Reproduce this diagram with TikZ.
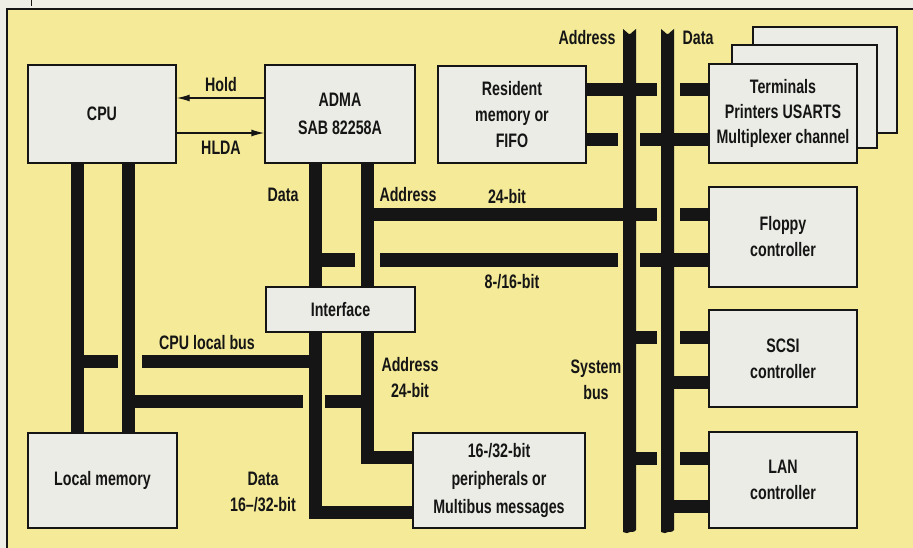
\documentclass[tikz,border=0pt]{standalone}
\usepackage{fontspec}
\newfontfamily\cf{Liberation Sans}[UprightFont={* Bold}, FakeStretch=0.73]
\usetikzlibrary{arrows.meta}
\definecolor{panel}{HTML}{F4EA98}
\definecolor{boxfill}{HTML}{ECECE6}
\definecolor{outer}{HTML}{EEEDE6}
\definecolor{ink}{HTML}{151515}
\pgfdeclarelayer{bg}\pgfdeclarelayer{mid}\pgfsetlayers{bg,mid,main}
\begin{document}
\begin{tikzpicture}[x=1pt,y=-1pt,
  txt/.style={font=\cf\fontsize{19.5}{26}\selectfont, text=ink, align=center, inner sep=0pt},
  box/.style={txt, draw=ink, line width=1.4pt, fill=boxfill},
  bus/.style={draw=ink, line width=13pt},
  sig/.style={draw=ink, line width=1.4pt, -{Latex[length=13pt,width=7pt]}}]
\useasboundingbox (0,0) rectangle (913,548);
\begin{pgfonlayer}{bg}
  \fill[outer] (0,0) rectangle (913,548);
  \fill[panel] (7,9) rectangle (913,548);
  \draw[ink, line width=1.6pt] (7,548) -- (7,9) -- (913,9);
  \draw[ink, line width=1pt] (31,0) -- (31,6);
\end{pgfonlayer}
% boxes
\node[box, minimum width=148pt, minimum height=98pt] (cpu) at (102,114) {CPU};
\node[box, minimum width=150pt, minimum height=98pt] (adma) at (340,114) {ADMA\\[2pt]SAB 82258A};
\node[box, minimum width=148pt, minimum height=97pt] (res) at (512,114.5) {Resident\\memory or\\FIFO};
\node[box, minimum width=144pt, minimum height=106pt] (term3) at (825,80) {};
\node[box, minimum width=145pt, minimum height=103pt] (term2) at (804.5,96.5) {};
\node[box, minimum width=148pt, minimum height=99pt, font=\cf\fontsize{19.5}{25}\selectfont] (term) at (783,113.5) {Terminals\\Printers USARTS\\Multiplexer channel};
\node[box, minimum width=148pt, minimum height=100pt] (floppy) at (783,237) {Floppy\\controller};
\node[box, minimum width=148pt, minimum height=97pt] (scsi) at (783,358.5) {SCSI\\controller};
\node[box, minimum width=148pt, minimum height=96pt] (lan) at (783,480) {LAN\\controller};
\node[box, minimum width=149pt, minimum height=45pt] (iface) at (340.5,309.5) {Interface};
\node[box, minimum width=149pt, minimum height=95pt] (lmem) at (102.5,480.5) {Local memory};
\node[box, minimum width=172pt, minimum height=95pt, font=\cf\fontsize{19.5}{28}\selectfont] (periph) at (499,480.5) {16-/32-bit\\peripherals or\\Multibus messages};
% labels
\node[txt] (lhold) at (221,85) {Hold};
\node[txt] (lhlda) at (221,148) {HLDA};
\node[txt] (ldata1) at (283,195) {Data};
\node[txt] (laddr1) at (408,195) {Address};
\node[txt] (l24) at (507,197) {24-bit};
\node[txt] (l816) at (512,282) {8-/16-bit};
\node[txt] (laddrtop) at (587,38) {Address};
\node[txt] (ldatatop) at (698,38) {Data};
\node[txt] (lsys) at (596,380) {System\\bus};
\node[txt] (lcpub) at (207,343) {CPU local bus};
\node[txt] (laddr2) at (410,378) {Address\\24-bit};
\node[txt] (ldata2) at (263,492) {Data\\16–/32-bit};
% coordinates
\coordinate (c1) at (77.5,0);
\coordinate (c2) at (128.5,0);
\coordinate (dl) at (315,0);
\coordinate (al) at (367.5,0);
\coordinate (ab) at (629.5,0);
\coordinate (db) at (667.5,0);
\coordinate (yh) at (0,98);
\coordinate (yl) at (0,133);
% signals
\draw[sig] (adma.west |- yh) -- (cpu.east |- yh);
\draw[sig] (cpu.east |- yl) -- (adma.west |- yl);
\begin{pgfonlayer}{mid}
  % system buses
  \fill[ink] (623,29) .. controls (626,30) and (627,34) .. (629.5,34) .. controls (632,34) and (633,30) .. (636,29)
     -- (636,530) .. controls (634,533) and (632,531) .. (630,532) .. controls (628,534) and (626,533) .. (623,532) -- cycle;
  \fill[ink] (661,29) .. controls (664,30) and (665,34) .. (667.5,34) .. controls (670,34) and (671,30) .. (674,29)
     -- (674,530) .. controls (672,533) and (670,531) .. (668,532) .. controls (666,534) and (664,533) .. (661,532) -- cycle;
  % CPU buses
  \draw[bus] (cpu.south -| c1) -- (lmem.north -| c1);
  \draw[bus] (cpu.south -| c2) -- (lmem.north -| c2);
  % ADMA data / address
  \draw[bus] (adma.south -| dl) -- (dl |- 0,512) -- (periph.west |- 0,512);
  \draw[bus] (adma.south -| al) -- (al |- 0,457) -- (periph.west |- 0,457);
  % 24-bit and 8/16-bit
  \draw[bus] (al |- 0,215) -- (657,215);
  \draw[bus] (680,215) -- (floppy.west |- 0,215);
  \draw[bus] (dl |- 0,260) -- (355,260);
  \draw[bus] (380,260) -- (618,260);
  \draw[bus] (640,260) -- (floppy.west |- 0,260);
  % resident / terminals
  \draw[bus] (res.east |- 0,90) -- (657,90);
  \draw[bus] (680,90) -- (term.west |- 0,90);
  \draw[bus] (res.east |- 0,140) -- (618,140);
  \draw[bus] (640,140) -- (term.west |- 0,140);
  % SCSI
  \draw[bus] (ab |- 0,337) -- (657,337);
  \draw[bus] (680,337) -- (scsi.west |- 0,337);
  \draw[bus] (db |- 0,382) -- (scsi.west |- 0,382);
  % LAN
  \draw[bus] (ab |- 0,458) -- (657,458);
  \draw[bus] (680,458) -- (lan.west |- 0,458);
  \draw[bus] (db |- 0,506) -- (lan.west |- 0,506);
  % CPU local bus
  \draw[bus] (c1 |- 0,361) -- (118,361);
  \draw[bus] (142,361) -- (dl |- 0,361);
  \draw[bus] (c2 |- 0,401) -- (303,401);
  \draw[bus] (325,401) -- (al |- 0,401);
\end{pgfonlayer}
\end{tikzpicture}
\end{document}
